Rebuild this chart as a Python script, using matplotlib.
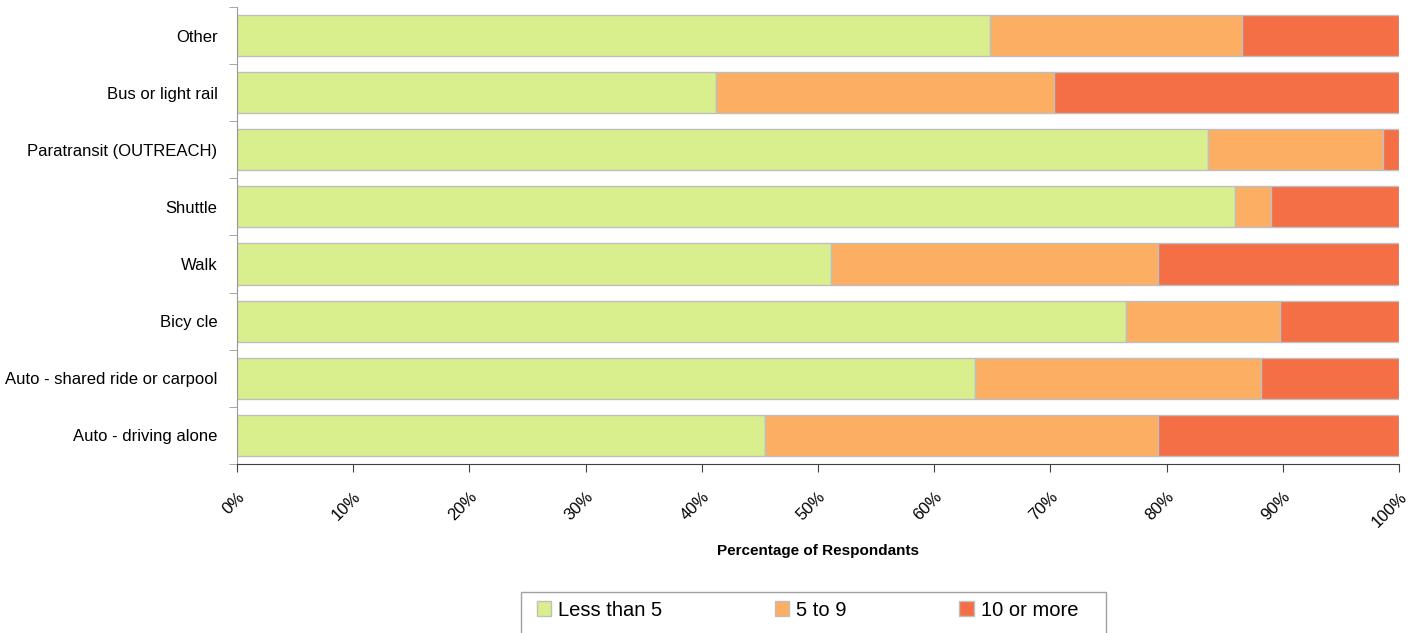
import numpy as np
import matplotlib.pyplot as plt
from matplotlib.patches import Rectangle

plt.rcParams['font.family'] = ['Liberation Sans', 'DejaVu Sans']

modes = ["Auto - driving alone", "Auto - shared ride or carpool", "Bicy cle",
         "Walk", "Shuttle", "Paratransit (OUTREACH)", "Bus or light rail", "Other"]
less_than_5 = [45.4, 63.5, 76.5, 51.1, 85.9, 83.6, 41.2, 64.8]
five_to_9 = [33.9, 24.6, 13.3, 28.2, 3.1, 15.0, 29.1, 21.7]
ten_or_more = [100 - a - b for a, b in zip(less_than_5, five_to_9)]

series = [("Less than 5", less_than_5, "#D9EE8C"),
          ("5 to 9", five_to_9, "#FCAF62"),
          ("10 or more", ten_or_more, "#F46F45")]

fig = plt.figure(figsize=(14.12, 6.33), dpi=100)
ax = fig.add_axes([0.1678, 0.267, 0.823, 0.722])

y = np.arange(len(modes))
left = np.zeros(len(modes))
handles = []
for name, vals, col in series:
    h = ax.barh(y, vals, left=left, height=0.72, color=col,
                edgecolor="#BFBFBF", linewidth=1.0, label=name)
    handles.append(h)
    left += np.array(vals)

ax.set_xlim(0, 100)
ax.set_ylim(-0.5, len(modes) - 0.5)
ax.set_xticks(np.arange(0, 101, 10))
ax.set_xticklabels([f"{v}%" for v in range(0, 101, 10)], rotation=45,
                   ha="right", va="top", fontsize=12, rotation_mode="anchor")
ax.set_yticks(y)
ax.set_yticklabels(modes, fontsize=12)
ax.set_yticks(np.arange(-0.5, len(modes), 1), minor=True)
ax.tick_params(axis="y", which="major", length=0, pad=14)
ax.tick_params(axis="y", which="minor", length=6, color="#999999")
ax.tick_params(axis="x", length=6, color="#404040", pad=12)

for s in ["top", "right"]:
    ax.spines[s].set_visible(False)
ax.spines["left"].set_color("#999999")
ax.spines["bottom"].set_color("#404040")

ax.set_xlabel("Percentage of Respondants", fontsize=11, fontweight="bold", labelpad=10)

# legend box drawn separately (runs off the bottom edge like the original)
fig.patches.append(Rectangle((0.369, -0.01), 0.4143, 0.0748, transform=fig.transFigure,
                             facecolor="white", edgecolor="#A0A0A0", linewidth=1.0))
fig.legend(handles=handles, loc="center", bbox_to_anchor=(0.5719, 0.0363),
           ncol=3, fontsize=14.5, frameon=False, handlelength=0.7, handleheight=0.7,
           columnspacing=5.6, borderpad=0, borderaxespad=0, handletextpad=0.35)

fig.savefig("out.png", dpi=100)
